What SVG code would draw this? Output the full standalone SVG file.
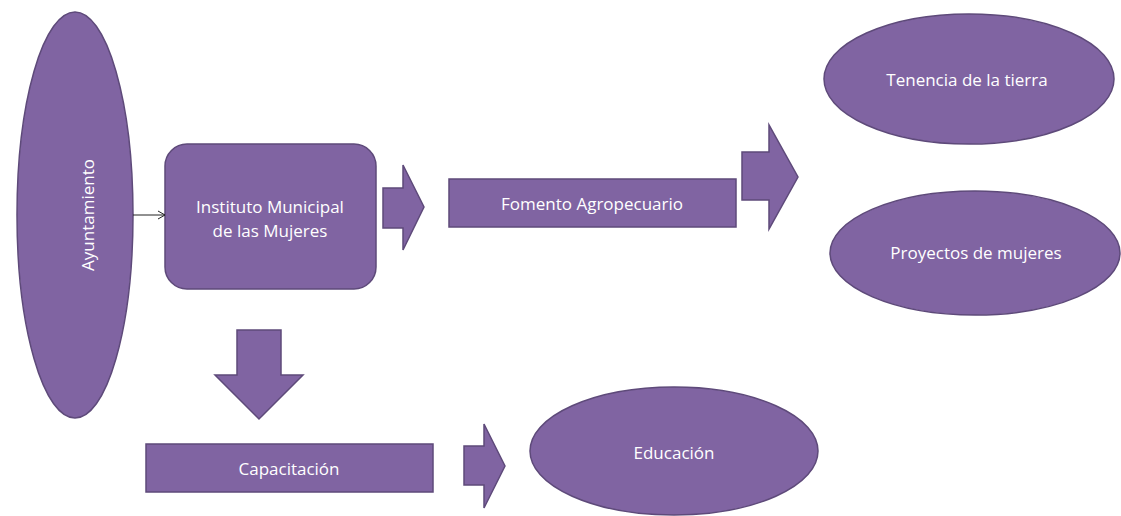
<svg xmlns="http://www.w3.org/2000/svg" width="1121" height="516" viewBox="0 0 1121 516">
<defs>
<style>
.n{fill:#8064A2;stroke:#5E4A7A;stroke-width:1.5}
.t{fill:#FFFFFF;font-family:"Open Sans","Liberation Sans",Arial,sans-serif;font-size:17px;text-anchor:middle;dominant-baseline:central}
.c{stroke:#222;stroke-width:1;fill:none}
</style>
<marker id="open" markerWidth="10" markerHeight="10" refX="8" refY="5" orient="auto" markerUnits="userSpaceOnUse">
<path d="M1,1 L8,5 L1,9" fill="none" stroke="#222" stroke-width="1"/>
</marker>
</defs>
<rect width="1121" height="516" fill="#FFFFFF"/>
<g id="ayuntamiento">
<ellipse class="n" cx="75" cy="215" rx="58" ry="203"/>
<text class="t" transform="translate(87,215) rotate(-90)">Ayuntamiento</text>
</g>
<g id="instituto">
<rect class="n" x="165" y="144" width="211" height="145" rx="22"/>
<text class="t" x="270" y="206">Instituto Municipal</text>
<text class="t" x="270" y="230">de las Mujeres</text>
</g>
<g id="fomento">
<rect class="n" x="449" y="179" width="287" height="48"/>
<text class="t" x="592" y="203">Fomento Agropecuario</text>
</g>
<g id="tenencia">
<ellipse class="n" cx="969" cy="79" rx="145" ry="65"/>
<text class="t" x="967" y="79">Tenencia de la tierra</text>
</g>
<g id="proyectos">
<ellipse class="n" cx="975" cy="253" rx="145" ry="62"/>
<text class="t" x="976" y="252">Proyectos de mujeres</text>
</g>
<g id="capacitacion">
<rect class="n" x="146" y="444" width="287" height="48"/>
<text class="t" x="289" y="468">Capacitación</text>
</g>
<g id="educacion">
<ellipse class="n" cx="674" cy="451" rx="144" ry="64"/>
<text class="t" x="674" y="452">Educación</text>
</g>
<g id="connectors">
<line class="c" x1="133" y1="215" x2="165" y2="215" marker-end="url(#open)"/>
<path class="n" d="M383,188 L403,188 L403,165 L424,207 L403,250 L403,228 L383,228 Z"/>
<path class="n" d="M742,152 L769,152 L769,125 L798,177 L769,229 L769,200 L742,200 Z"/>
<path class="n" d="M237,330 L281,330 L281,375 L303,375 L259,419 L215,375 L237,375 Z"/>
<path class="n" d="M464,446 L484,446 L484,424 L505,466 L484,508 L484,485 L464,485 Z"/>
</g>
</svg>
